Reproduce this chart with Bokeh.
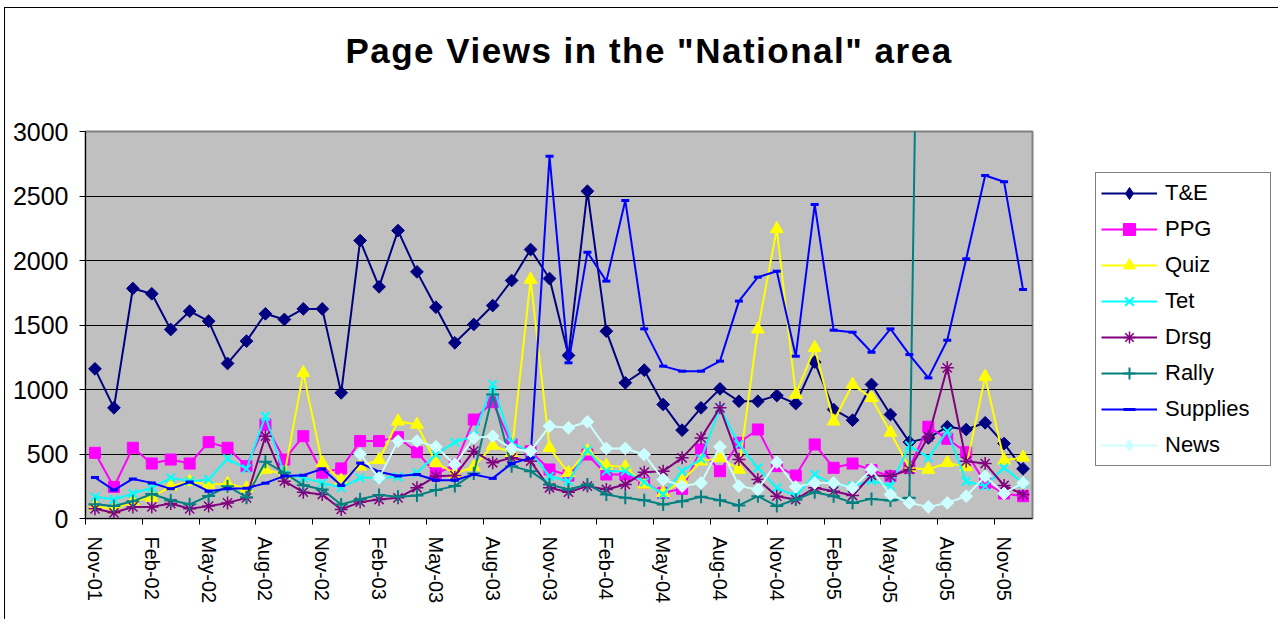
import math
from bokeh.plotting import figure
from bokeh.models import FixedTicker, Legend, LegendItem, Range1d, Div
from bokeh.layouts import row, column
from bokeh.embed import file_html
from bokeh.resources import INLINE

nan = float("nan")

months = ["Nov-01", "Dec-01",
          "Jan-02", "Feb-02", "Mar-02", "Apr-02", "May-02", "Jun-02", "Jul-02", "Aug-02", "Sep-02", "Oct-02", "Nov-02", "Dec-02",
          "Jan-03", "Feb-03", "Mar-03", "Apr-03", "May-03", "Jun-03", "Jul-03", "Aug-03", "Sep-03", "Oct-03", "Nov-03", "Dec-03",
          "Jan-04", "Feb-04", "Mar-04", "Apr-04", "May-04", "Jun-04", "Jul-04", "Aug-04", "Sep-04", "Oct-04", "Nov-04", "Dec-04",
          "Jan-05", "Feb-05", "Mar-05", "Apr-05", "May-05", "Jun-05", "Jul-05", "Aug-05", "Sep-05", "Oct-05", "Nov-05", "Dec-05"]

te = [1160, 858, 1783, 1742, 1465, 1607, 1530, 1202, 1375, 1587, 1543, 1625, 1625, 974, 2155, 1796, 2232, 1912,
      1638, 1362, 1504, 1651, 1845, 2085, 1860, 1264, 2537, 1452, 1052, 1150, 884, 685, 858, 1005, 909, 909, 953,
      891, 1212, 845, 762, 1039, 806, 592, 625, 711, 690, 742, 581, 385]
ppg = [509, 245, 548, 426, 457, 426, 592, 548, 406, 729, 457, 638, 354, 388, 600, 600, 630, 514, 349, 411, 767,
       902, 574, 522, 380, 333, 496, 341, 341, 276, 199, 230, 535, 367, 587, 690, 406, 333, 574, 393, 426, 375,
       328, 393, 711, 618, 514, 276, 194, 173]
quiz = [95, 70, 134, 162, 250, 285, 263, 270, 235, 380, 340, 1129, 428, 295, 405, 455, 754, 729, 432, 349, 400,
        566, 510, 1853, 548, 354, 522, 410, 400, 264, 200, 289, 444, 470, 380, 1467, 2245, 961, 1323, 754, 1039,
        935, 667, 392, 380, 432, 400, 1100, 450, 474]
tet = [168, 147, 194, 238, 315, 289, 302, 463, 385, 793, 341, 315, 276, 238, 315, 315, 322, 354, 496, 592, 638,
       1039, 587, 514, 328, 289, 530, 367, 367, 282, 186, 367, 463, 860, 574, 393, 238, 173, 341, 264, 251, 295,
       251, 566, 470, 677, 289, 251, 393, 276]
drsg = [75, 44, 90, 90, 116, 75, 96, 121, 160, 638, 289, 204, 186, 70, 127, 147, 160, 238, 328, 333, 522, 432,
        470, 444, 238, 204, 251, 225, 264, 359, 367, 470, 625, 858, 457, 302, 173, 147, 238, 212, 178, 335, 328,
        380, 633, 1168, 444, 426, 256, 186]
rally = [110, 97, 133, 190, 142, 110, 175, 250, 165, 440, 354, 257, 225, 109, 150, 183, 168, 178, 220, 251, 349,
         961, 406, 367, 264, 225, 264, 186, 160, 142, 109, 134, 168, 142, 101, 173, 96, 147, 204, 173, 121, 152,
         140, 160, 10000, nan, nan, nan, nan, nan]
supplies = [318, 220, 307, 276, 230, 282, 212, 230, 235, 274, 330, 335, 385, 256, 430, 363, 330, 341, 296, 296,
            341, 311, 426, 470, 2809, 1207, 2064, 1840, 2465, 1470, 1181, 1142, 1142, 1220, 1685, 1871, 1917, 1258,
            2434, 1460, 1444, 1289, 1470, 1271, 1090, 1382, 2013, 2659, 2610, 1775]
news = [nan] * 14 + [500, 315, 600, 600, 556, 419, 625, 638, 540, 522, 716, 703, 750, 543, 543, 496, 302, 251,
                     276, 556, 251, 225, 437, 245, 276, 276, 238, 380, 186, 121, 90, 121, 173, 328, 194, 276]

# name, values, colour, plot marker, legend marker, size, angle, marker line width
series = [
    ("T&E", te, "#000080", "square", "diamond", 9, math.pi / 4, 1),
    ("PPG", ppg, "#FF00FF", "square", "square", 11, 0, 1),
    ("Quiz", quiz, "#FFFF00", "triangle", "triangle", 13, 0, 1),
    ("Tet", tet, "#00FFFF", "x", "x", 12, 0, 2),
    ("Drsg", drsg, "#800080", "asterisk", "asterisk", 13, 0, 1.5),
    ("Rally", rally, "#008080", "cross", "cross", 13, 0, 2),
    ("Supplies", supplies, "#0000FF", "dash", "dash", 8, 0, 3),
    ("News", news, "#CCFFFF", "square", "diamond", 9, math.pi / 4, 1),
]

x = list(range(len(months)))
FONT = "Liberation Sans"

title = Div(text='Page Views in the "National" area', width=1271, height=89,
            styles={"font-family": FONT, "font-weight": "bold", "font-size": "35px",
                    "letter-spacing": "1.5px",
                    "color": "black", "text-align": "center", "padding-top": "18px",
                    "padding-left": "7px", "box-sizing": "border-box", "line-height": "normal"})

p = figure(width=1075, height=512, output_backend="svg", toolbar_location=None,
           x_range=Range1d(-0.5, len(months) - 0.5), y_range=Range1d(0, 3000),
           min_border_left=80, min_border_right=48, min_border_top=24, min_border_bottom=101)

p.background_fill_color = "#C0C0C0"
p.border_fill_color = "white"
p.outline_line_color = "#808080"
p.outline_line_width = 2

p.xgrid.visible = False
p.ygrid.grid_line_color = "black"
p.ygrid.grid_line_width = 1
p.ygrid.grid_line_alpha = 1

p.yaxis.ticker = FixedTicker(ticks=[0, 500, 1000, 1500, 2000, 2500, 3000])
p.yaxis.major_label_text_font = FONT
p.yaxis.major_label_text_font_size = "25px"
p.yaxis.major_label_text_color = "black"
p.yaxis.axis_line_color = "black"
p.yaxis.major_tick_line_color = "black"
p.yaxis.major_tick_out = 6
p.yaxis.major_tick_in = 0
p.yaxis.minor_tick_line_color = None
p.yaxis.major_label_standoff = 11

label_idx = list(range(0, len(months), 3))
p.xaxis.ticker = FixedTicker(ticks=label_idx, minor_ticks=[i - 0.5 for i in label_idx])
p.xaxis.major_label_overrides = {i: months[i] for i in label_idx}
p.xaxis.major_label_orientation = "vertical"
p.xaxis.major_label_text_font = FONT
p.xaxis.major_label_text_font_size = "20px"
p.xaxis.major_label_text_color = "black"
p.xaxis.axis_line_color = "black"
p.xaxis.major_tick_out = 0
p.xaxis.major_tick_in = 0
p.xaxis.minor_tick_line_color = "black"
p.xaxis.minor_tick_out = 6
p.xaxis.minor_tick_in = 0
p.xaxis.major_label_standoff = 12

# legend panel (its x range keeps the series out of view; only the legend shows)
pl = figure(width=196, height=512, output_backend="svg", toolbar_location=None,
            x_range=Range1d(1000, 1001), y_range=Range1d(0, 3000),
            x_axis_location=None, y_axis_location=None,
            min_border_left=0, min_border_right=0, min_border_top=24, min_border_bottom=101)
pl.outline_line_color = None
pl.grid.visible = False
pl.background_fill_color = "white"
pl.border_fill_color = "white"

items = []
for name, vals, color, marker, lmarker, size, angle, lw in series:
    p.line(x, vals, line_color=color, line_width=2)
    p.scatter(x, vals, marker=marker, size=size, angle=angle, fill_color=color,
              line_color=color, line_width=lw)
    lr = pl.line(x, vals, line_color=color, line_width=2)
    sr = pl.scatter(x, vals, marker=lmarker, size=size, fill_color=color,
                    line_color=color, line_width=lw)
    items.append(LegendItem(label=name, renderers=[lr, sr]))

legend = Legend(items=items, location=(15, 52))
legend.label_text_font = FONT
legend.label_text_font_size = "22px"
legend.label_text_color = "black"
legend.glyph_width = 56
legend.glyph_height = 30
legend.label_height = 22
legend.label_width = 100
legend.spacing = 6
legend.padding = 5
legend.margin = 0
legend.label_standoff = 8
legend.border_line_color = "black"
legend.border_line_width = 1
legend.background_fill_color = "white"
pl.add_layout(legend)

layout = column(title, row(p, pl))
layout.styles = {"border-left": "1px solid black", "border-top": "1px solid black",
                 "margin-left": "4px", "margin-top": "7px"}

with open("out.html", "w") as f:
    f.write(file_html(layout, INLINE))
